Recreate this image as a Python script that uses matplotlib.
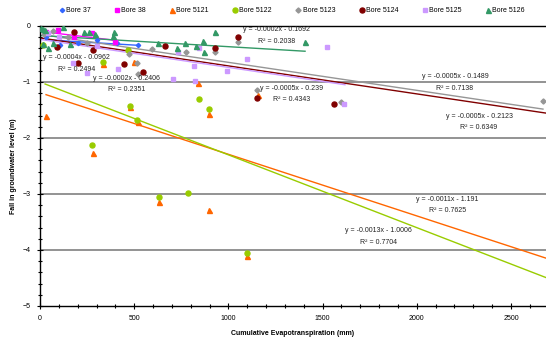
"""
Fall in groundwater level against cumulative evapotranspiration, with
linear trend lines for each bore.
"""
# *********************************************************************************
import numpy as np
import matplotlib
matplotlib.use('Agg')
import matplotlib.pyplot as plt
from matplotlib.ticker import MultipleLocator
# *********************************************************************************

plt.rcParams['font.family'] = ['Liberation Sans', 'DejaVu Sans']

# ---------------------------------------------------------------------------------
# observations: cumulative evapotranspiration (mm) and fall in level (m)

bore37_x = [30, 106, 200, 300, 410, 520]
bore37_y = [-0.20, -0.34, -0.30, -0.25, -0.30, -0.34]

bore38_x = [30, 96, 180, 276, 398]
bore38_y = [-0.10, -0.07, -0.20, -0.12, -0.29]

bore5121_x = [32, 281, 334, 499, 477, 520, 632, 839, 897, 897, 1099, 1158]
bore5121_y = [-1.61, -2.27, -0.68, -0.64, -1.45, -1.71, -3.15, -1.02, -1.57,
              -3.29, -4.10, -1.23]

bore5122_x = [16, 278, 334, 467, 477, 517, 632, 787, 844, 897, 1099]
bore5122_y = [-0.34, -2.13, -0.64, -0.43, -1.43, -1.67, -3.05, -2.99, -1.30,
              -1.49, -4.05]

bore5123_x = [20, 69, 150, 250, 472, 515, 520, 594, 775, 929, 1051, 1152,
              1598, 2670]
bore5123_y = [-0.15, -0.09, -0.20, -0.30, -0.50, -0.66, -0.86, -0.41, -0.46,
              -0.46, -0.28, -1.14, -1.36, -1.34]

bore5124_x = [90, 180, 202, 281, 446, 547, 663, 929, 1051, 1152, 1561]
bore5124_y = [-0.37, -0.11, -0.66, -0.42, -0.68, -0.82, -0.35, -0.40, -0.20,
              -1.29, -1.39]

bore5125_x = [40, 100, 175, 250, 300, 414, 706, 733, 817, 823, 844, 992,
              1099, 1523, 1614]
bore5125_y = [-0.13, -0.20, -0.66, -0.84, -0.35, -0.77, -0.95, -0.47, -0.71,
              -0.98, -0.40, -0.80, -0.59, -0.37, -1.39]

bore5126_x = [5, 16, 16, 27, 42, 69, 122, 159, 234, 260, 292, 387, 393, 626,
              727, 770, 828, 865, 870, 929, 1407]
bore5126_y = [-0.03, -0.05, -0.32, -0.07, -0.39, -0.30, -0.02, -0.32, -0.11,
              -0.11, -0.14, -0.18, -0.11, -0.30, -0.39, -0.30, -0.36, -0.27,
              -0.46, -0.11, -0.29]

# trend lines: (slope, intercept, r2, x range)
trend37 = (-0.0002, -0.2406, 0.2351, 30, 520)
trend38 = (-0.0004, -0.0962, 0.2494, 30, 398)
trend5121 = (-0.0011, -1.191, 0.7625, 32, 2690)
trend5122 = (-0.0013, -1.0006, 0.7704, 27, 2690)
trend5123 = (-0.0005, -0.1489, 0.7138, 16, 2670)
trend5124 = (-0.0005, -0.2123, 0.6349, 0, 2690)
trend5125 = (-0.0005, -0.239, 0.4343, 0, 1619)
trend5126 = (-0.0002, -0.1692, 0.2038, 5, 1407)

# ---------------------------------------------------------------------------------

series = [
    ('Bore 37', bore37_x, bore37_y, trend37, '#3366FF', 'D', 2.2, (460, -0.93)),
    ('Bore 38', bore38_x, bore38_y, trend38, '#FF00FF', 's', 3.2, (196, -0.57)),
    ('Bore 5121', bore5121_x, bore5121_y, trend5121, '#FF6600', '^', 3.6, (2162, -3.09)),
    ('Bore 5122', bore5122_x, bore5122_y, trend5122, '#99CC00', 'o', 3.6, (1797, -3.66)),
    ('Bore 5123', bore5123_x, bore5123_y, trend5123, '#969696', 'D', 2.6, (2203, -0.91)),
    ('Bore 5124', bore5124_x, bore5124_y, trend5124, '#800000', 'o', 3.6, (2331, -1.62)),
    ('Bore 5125', bore5125_x, bore5125_y, trend5125, '#CC99FF', 's', 3.4, (1336, -1.11)),
    ('Bore 5126', bore5126_x, bore5126_y, trend5126, '#339966', '^', 3.6, (1258, -0.07)),
]

fig = plt.figure('groundwater', figsize=(5.46, 3.38), dpi=100)
ax = fig.add_axes([40.0 / 546, 1.0 - 306.0 / 338, 506.0 / 546, 280.0 / 338])

for (name, x, y, trend, color, marker, ms, lab) in series:
    ax.plot(x, y, linestyle='none', marker=marker, markersize=ms, color=color,
            markeredgecolor=color, label=name, zorder=3)

for (name, x, y, trend, color, marker, ms, lab) in series:
    (m, c, r2, x0, x1) = trend
    xt = np.array([x0, x1], dtype=float)
    ax.plot(xt, m * xt + c, '-', color=color, linewidth=1.0, zorder=2)
    eq = 'y = %gx - %g' % (m, -c)
    ax.text(lab[0], lab[1], eq, ha='center', va='center', fontsize=5,
            color='#222222', zorder=4)
    ax.text(lab[0], lab[1] - 0.2, 'R\u00b2 = %g' % r2, ha='center',
            va='center', fontsize=5, color='#222222', zorder=4)

# horizontal grid
for g in [-1, -2, -3, -4]:
    ax.axhline(g, color='#808080', linewidth=1.2, zorder=1)

ax.set_xlim(0, 2686)
ax.set_ylim(-5, 0)
ax.xaxis.set_major_locator(MultipleLocator(500))
ax.xaxis.set_minor_locator(MultipleLocator(100))
ax.yaxis.set_major_locator(MultipleLocator(1))
ax.yaxis.set_minor_locator(MultipleLocator(0.2))
ax.tick_params(which='both', direction='inout', labelsize=5, width=0.8,
               colors='black', pad=4)
ax.tick_params(which='major', length=5)
ax.tick_params(which='minor', length=3)
ax.spines['right'].set_visible(False)
for s in ['left', 'bottom', 'top']:
    ax.spines[s].set_linewidth(1.0)

ax.set_xlabel('Cumulative Evapotranspiration (mm)', fontsize=5,
              fontweight='bold', labelpad=6)
ax.set_ylabel('Fall in groundwater level (m)', fontsize=5, fontweight='bold',
              labelpad=4)

fig.legend(loc='center', bbox_to_anchor=(292.0 / 546, 1.0 - 11.0 / 338),
           ncol=8, frameon=False, fontsize=5, handlelength=0.6,
           handletextpad=0.3, columnspacing=3.5, borderaxespad=0.0)

fig.savefig('out.png', dpi=100)
plt.close('groundwater')
